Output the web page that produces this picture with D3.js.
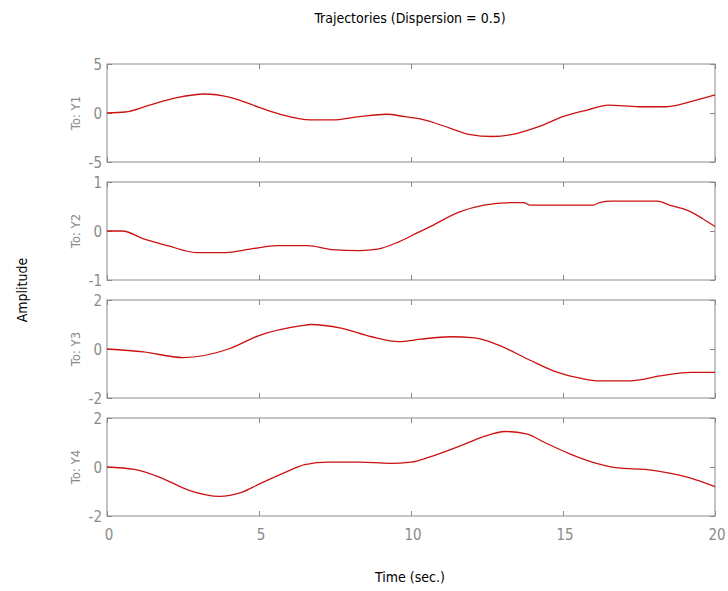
<!DOCTYPE html>
<html>
<head>
<meta charset="utf-8">
<script src="https://cdn.jsdelivr.net/npm/d3@7"></script>
<style>
  body { margin: 0; background: #fff; }
  svg text { font-family: "DejaVu Sans Condensed", "Liberation Sans", Arial, sans-serif; }
</style>
</head>
<body>
<svg id="chart" width="728" height="591"></svg>
<script>
// outputs and their y ranges / ticks
var outputs = ["To: Y1", "To: Y2", "To: Y3", "To: Y4"];
var yDomains = [[-5, 5], [-1, 1], [-2, 2], [-2, 2]];
var yTicks = [[-5, 0, 5], [-1, 0, 1], [-2, 0, 2], [-2, 0, 2]];
var xTicks = [0, 5, 10, 15, 20];

// trajectories
var t1 = [0, 0.6, 1.4, 2.3, 3.2, 4.05, 5.0, 5.7, 6.7, 7.4, 8.3, 9.2, 9.8, 10.3, 11.3, 11.9, 12.7, 13.5, 14.2, 15.0, 15.8, 16.5, 17.5, 18.4, 19.2, 20];
var y1 = [0, 0.1, 0.8, 1.56, 1.94, 1.6, 0.58, -0.13, -0.71, -0.71, -0.37, -0.13, -0.38, -0.6, -1.56, -2.17, -2.4, -2.07, -1.4, -0.37, 0.3, 0.8, 0.64, 0.64, 1.15, 1.84];

var t2 = [0, 0.5, 1.2, 2.0, 2.95, 3.9, 4.7, 5.6, 6.6, 7.4, 8.3, 8.9, 9.6, 10.2, 10.6, 11.6, 12.4, 13.3, 13.7, 13.9, 15.1, 16.0, 16.2, 16.6, 18.1, 18.5, 19.1, 19.6, 20];
var y2 = [0, 0, -0.16, -0.3, -0.44, -0.44, -0.37, -0.3, -0.3, -0.38, -0.4, -0.37, -0.22, -0.04, 0.08, 0.39, 0.53, 0.58, 0.58, 0.53, 0.53, 0.53, 0.58, 0.61, 0.61, 0.53, 0.42, 0.25, 0.09];

var t3 = [0, 1.2, 2.5, 4.0, 5.0, 6.4, 6.7, 7.7, 8.7, 9.6, 10.3, 11.3, 12.1, 12.9, 13.9, 14.7, 15.6, 16.2, 17.2, 18.2, 19.2, 20];
var y3 = [0, -0.12, -0.35, 0, 0.55, 0.95, 1.0, 0.85, 0.5, 0.3, 0.4, 0.5, 0.45, 0.15, -0.45, -0.9, -1.2, -1.3, -1.3, -1.1, -0.95, -0.95];

var t4 = [0, 0.9, 1.7, 2.7, 3.7, 4.4, 5.0, 5.9, 6.5, 7.3, 8.3, 9.3, 10.0, 10.6, 11.6, 12.3, 13.1, 13.8, 14.4, 15.2, 16.1, 16.9, 17.7, 18.5, 19.2, 20];
var y4 = [0, -0.1, -0.4, -0.95, -1.2, -1.05, -0.7, -0.2, 0.1, 0.2, 0.2, 0.15, 0.2, 0.4, 0.85, 1.2, 1.45, 1.35, 1.0, 0.55, 0.15, -0.05, -0.1, -0.25, -0.45, -0.8];

var times = [t1, t2, t3, t4];
var values = [y1, y2, y3, y4];

var svg = d3.select("#chart");
var left = 107, right = 715;
var panelTop = [64, 182, 300, 418];
var panelH = 98;
var grey = "#8a8a8a";

var x = d3.scaleLinear().domain([0, 20]).range([left, right]);

svg.append("text")
  .attr("x", 410).attr("y", 23)
  .attr("text-anchor", "middle")
  .style("font-size", "14px")
  .text("Trajectories (Dispersion = 0.5)");

outputs.forEach(function(name, i) {
  var top = panelTop[i];
  var y = d3.scaleLinear().domain(yDomains[i]).range([top + panelH, top]);
  var g = svg.append("g");

  // inward ticks on all four sides
  g.append("g").attr("transform", "translate(0," + (top + panelH) + ")")
    .call(d3.axisTop(x).tickValues(xTicks).tickSize(5).tickFormat(""));
  g.append("g").attr("transform", "translate(0," + top + ")")
    .call(d3.axisBottom(x).tickValues(xTicks).tickSize(5).tickFormat(""));
  g.append("g").attr("transform", "translate(" + left + ",0)")
    .call(d3.axisRight(y).tickValues(yTicks[i]).tickSize(5).tickFormat(""));
  g.append("g").attr("transform", "translate(" + right + ",0)")
    .call(d3.axisLeft(y).tickValues(yTicks[i]).tickSize(5).tickFormat(""));
  g.selectAll(".domain").remove();
  g.selectAll(".tick line").attr("stroke", grey);

  g.append("rect")
    .attr("x", left).attr("y", top)
    .attr("width", right - left).attr("height", panelH)
    .attr("fill", "none").attr("stroke", grey);

  // y tick labels
  g.selectAll(".ylab").data(yTicks[i]).enter().append("text")
    .attr("x", left - 5)
    .attr("y", function(d) { return y(d) + 6; })
    .attr("text-anchor", "end")
    .attr("fill", grey)
    .style("font-size", "15px")
    .text(function(d) { return d; });

  g.append("text")
    .attr("transform", "translate(80," + (top + panelH / 2) + ") rotate(-90)")
    .attr("text-anchor", "middle")
    .attr("fill", grey)
    .style("font-size", "13px")
    .text(name);

  var pts = times[i].map(function(t, k) { return [t, values[i][k]]; });
  var line = d3.line()
    .x(function(d) { return x(d[0]); })
    .y(function(d) { return y(d[1]); })
    .curve(d3.curveMonotoneX);
  g.append("path")
    .datum(pts)
    .attr("d", line)
    .attr("fill", "none")
    .attr("stroke", "#cc1111")
    .attr("stroke-width", 1.3);

  if (i == outputs.length - 1) {
    g.selectAll(".xlab").data(xTicks).enter().append("text")
      .attr("x", function(d) { return x(d) + 2; })
      .attr("y", top + panelH + 24)
      .attr("text-anchor", "middle")
      .attr("fill", grey)
      .style("font-size", "15px")
      .text(function(d) { return d; });
  }
});

svg.append("text")
  .attr("x", 410).attr("y", 582)
  .attr("text-anchor", "middle")
  .style("font-size", "14px")
  .text("Time (sec.)");

svg.append("text")
  .attr("transform", "translate(27,290) rotate(-90)")
  .attr("text-anchor", "middle")
  .style("font-size", "14px")
  .text("Amplitude");
</script>
</body>
</html>
